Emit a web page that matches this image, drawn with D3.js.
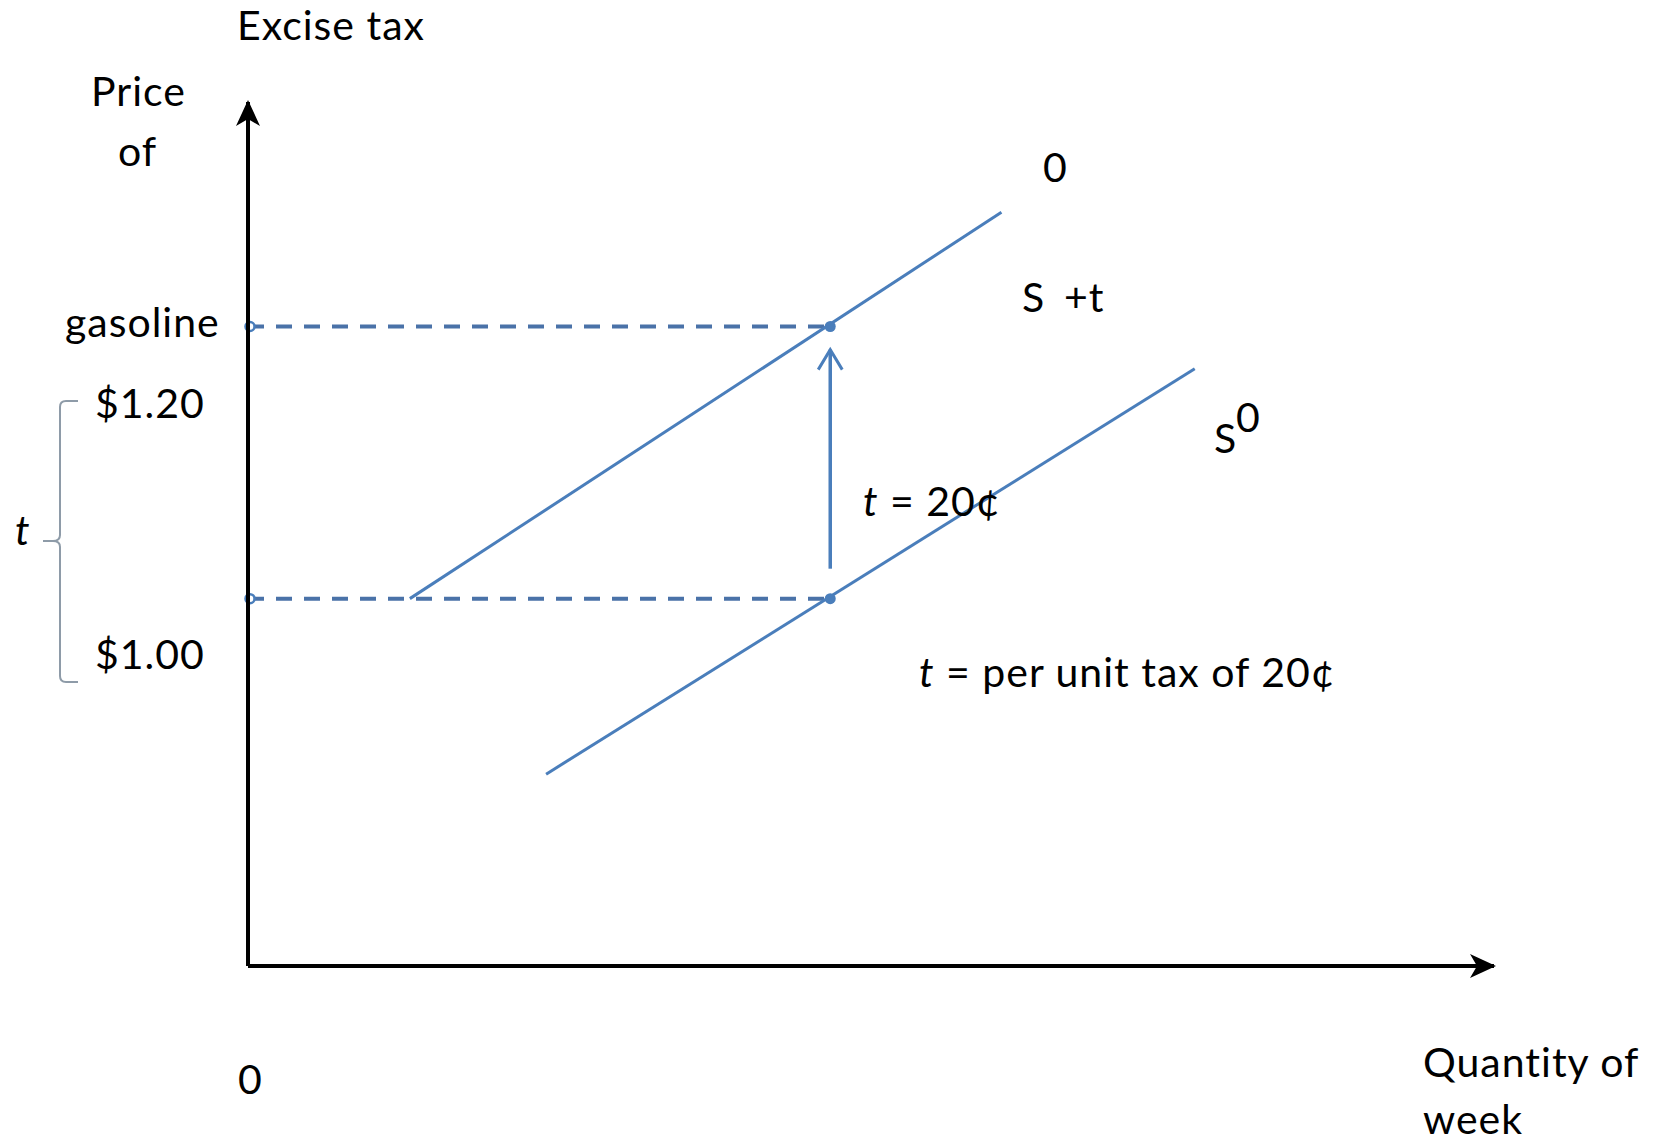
<!DOCTYPE html>
<html>
<head>
<meta charset="utf-8">
<script src="https://d3js.org/d3.v7.min.js"></script>
<style>
body { margin: 0; background: #fff; }
svg { display: block; background: #fff; }
text { font-family: Lato, "Noto Sans", sans-serif; font-size: 41px; letter-spacing: 1px; fill: #000; }
.it { font-style: italic; }
.supply { fill: none; stroke: #4a7ebb; stroke-width: 3; }
.guide { fill: none; stroke: #4a72a8; stroke-width: 4; stroke-dasharray: 16 12; }
.axisLine { fill: none; stroke: #000; stroke-width: 4; }
</style>
</head>
<body>
<div id="chart"></div>
<script>
// prices on the vertical axis ($ per gallon)
const priceTicks = [1.00, 1.20];
const priceLabels = ["$1.00", "$1.20"];
const taxCents = 20;
const eqQuantity = 50;
// supply curve endpoints as [quantity, price]
const supplyBefore = [[25.6, 0.871], [81.3, 1.169]];   // S0
const supplyAfter = [[13.9, 1.00], [64.7, 1.284]];     // S0 + t
const taxArrow = [1.022, 1.183];
const qDomain = [0, 107];
const pDomain = [0.73, 1.365];

var myApp = {};
myApp.w = 1658;
myApp.h = 1144;
myApp.blue = "#4a7ebb";

myApp.x = d3.scaleLinear().domain(qDomain).range([248, 1494]);
myApp.y = d3.scaleLinear().domain(pDomain).range([966, 102]);

myApp.line = d3.line()
    .x(d => myApp.x(d[0]))
    .y(d => myApp.y(d[1]));

myApp.appendSvg = function (div) {
    return d3.select(div).append("svg")
        .attr("width", myApp.w)
        .attr("height", myApp.h);
}

myApp.appendMarkers = function (svg) {
    let defs = svg.append("defs");
    defs.append("marker")
        .attr("id", "axisHead")
        .attr("viewBox", "0 0 26 26")
        .attr("refX", 24).attr("refY", 13)
        .attr("markerUnits", "userSpaceOnUse")
        .attr("markerWidth", 26).attr("markerHeight", 26)
        .attr("orient", "auto")
        .append("path")
        .attr("d", "M0,1 L26,13 L0,25 L7,13 Z")
        .attr("fill", "#000");
    defs.append("marker")
        .attr("id", "taxHead")
        .attr("viewBox", "0 0 26 28")
        .attr("refX", 23).attr("refY", 14)
        .attr("markerUnits", "userSpaceOnUse")
        .attr("markerWidth", 26).attr("markerHeight", 28)
        .attr("orient", "auto")
        .style("overflow", "visible")
        .append("path")
        .attr("d", "M3,2 L23,14 L3,26")
        .attr("fill", "none")
        .attr("stroke", myApp.blue)
        .attr("stroke-width", 3);
}

myApp.appendAxes = function (svg) {
    svg.append("path")
        .attr("class", "axisLine")
        .attr("d", myApp.line([[qDomain[0], pDomain[0]], [qDomain[0], pDomain[1]]]))
        .attr("marker-end", "url(#axisHead)");
    svg.append("path")
        .attr("class", "axisLine")
        .attr("d", myApp.line([[qDomain[0], pDomain[0]], [qDomain[1], pDomain[0]]]))
        .attr("marker-end", "url(#axisHead)");
}

myApp.appendCurves = function (svg) {
    let x = myApp.x, y = myApp.y;

    // dashed guides from the axis to the equilibrium points
    svg.selectAll(".guide")
        .data(priceTicks)
        .enter().append("path")
        .attr("class", "guide")
        .attr("d", p => myApp.line([[qDomain[0], p], [eqQuantity, p]]));

    svg.selectAll(".startDot")
        .data(priceTicks)
        .enter().append("circle")
        .attr("class", "startDot")
        .attr("cx", x(qDomain[0]) + 2)
        .attr("cy", p => y(p))
        .attr("r", 4.5)
        .attr("fill", "#fff")
        .attr("stroke", myApp.blue)
        .attr("stroke-width", 2.5);

    svg.selectAll(".supply")
        .data([supplyBefore, supplyAfter])
        .enter().append("path")
        .attr("class", "supply")
        .attr("d", myApp.line);

    svg.append("path")
        .attr("d", myApp.line([[eqQuantity, taxArrow[0]], [eqQuantity, taxArrow[1]]]))
        .attr("fill", "none")
        .attr("stroke", myApp.blue)
        .attr("stroke-width", 3.5)
        .attr("marker-end", "url(#taxHead)");

    svg.selectAll(".eqDot")
        .data(priceTicks)
        .enter().append("circle")
        .attr("class", "eqDot")
        .attr("cx", x(eqQuantity))
        .attr("cy", p => y(p))
        .attr("r", 5.5)
        .attr("fill", myApp.blue);
}

myApp.appendBracket = function (svg) {
    svg.append("path")
        .attr("d", "M78,401 H66 Q60,401 60,407 V535 Q60,541 53,541 H43 M53,541 Q60,541 60,547 V676 Q60,682 66,682 H78")
        .attr("fill", "none")
        .attr("stroke", "#8e9ba8")
        .attr("stroke-width", 2);
}

myApp.appendLabels = function (svg) {
    let put = function (txt, px, py, cls) {
        return svg.append("text").attr("x", px).attr("y", py).attr("class", cls || null).text(txt);
    }
    put("Excise tax", 237, 40);
    put("Price", 91, 106);
    put("of", 118, 166);
    put("gasoline", 65, 337);

    // price labels sit a little below their guide lines
    put(priceLabels[1], 95, myApp.y(priceTicks[1]) + 91);
    put(priceLabels[0], 95, myApp.y(priceTicks[0]) + 70);

    put("t", 15, 545, "it");

    put("0", 1043, 182);
    put("S", 1022, 312);
    put("+t", 1064, 312);

    put("S", 1214, 453);
    put("0", 1236, 432);

    let t1 = svg.append("text").attr("x", 863).attr("y", 516);
    t1.append("tspan").attr("class", "it").text("t");
    t1.append("tspan").text(" = " + taxCents + "\u00a2");

    let t2 = svg.append("text").attr("x", 919).attr("y", 687);
    t2.append("tspan").attr("class", "it").text("t");
    t2.append("tspan").text(" = per unit tax of " + taxCents + "\u00a2");

    put("0", 238, 1094);
    put("Quantity of", 1423, 1077);
    put("week", 1423, 1134);
}

myApp.run = function () {
    let svg = myApp.appendSvg("#chart");
    myApp.appendMarkers(svg);
    myApp.appendBracket(svg);
    myApp.appendCurves(svg);
    myApp.appendAxes(svg);
    myApp.appendLabels(svg);
}

window.onload = myApp.run;
</script>
</body>
</html>
